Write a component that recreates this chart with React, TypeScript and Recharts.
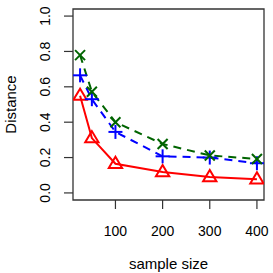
import React from 'react';
import { LineChart, Line, XAxis, YAxis, ReferenceArea } from 'recharts';

const sampleSizes = [25, 50, 100, 200, 300, 400];
const redVals = [0.55, 0.31, 0.165, 0.118, 0.09, 0.077];
const blueVals = [0.665, 0.53, 0.345, 0.207, 0.2, 0.168];
const greenVals = [0.779, 0.572, 0.4, 0.277, 0.212, 0.192];
const xTicks = [100, 200, 300, 400];
const yTicks = [0, 0.2, 0.4, 0.6, 0.8, 1.0];

const data = sampleSizes.map((n, i) => ({
  n,
  red: redVals[i],
  blue: blueVals[i],
  green: greenVals[i],
}));

const FONT = '"Liberation Sans", Arial, sans-serif';

function Triangle(props: any) {
  const { cx, cy } = props;
  const r = 7;
  const pts = `${cx},${cy - r} ${cx - r * 0.95},${cy + r * 0.6} ${cx + r * 0.95},${cy + r * 0.6}`;
  return <polygon points={pts} fill="none" stroke="#ff0000" strokeWidth={2} />;
}

function Plus(props: any) {
  const { cx, cy } = props;
  const r = 7;
  return (
    <g stroke="#0000ff" strokeWidth={2}>
      <line x1={cx - r} y1={cy} x2={cx + r} y2={cy} />
      <line x1={cx} y1={cy - r} x2={cx} y2={cy + r} />
    </g>
  );
}

function Cross(props: any) {
  const { cx, cy } = props;
  const r = 5;
  return (
    <g stroke="#006400" strokeWidth={2}>
      <line x1={cx - r} y1={cy - r} x2={cx + r} y2={cy + r} />
      <line x1={cx - r} y1={cy + r} x2={cx + r} y2={cy - r} />
    </g>
  );
}

function XTick(props: any) {
  const { x, payload } = props;
  // baseline under the tick marks, like R's axis labels
  return (
    <text x={x} y={236} textAnchor="middle" fontSize={14} fill="#000" fontFamily={FONT}>
      {payload.value}
    </text>
  );
}

function YTick(props: any) {
  const { y, payload } = props;
  const cx = 45;
  return (
    <text
      x={cx}
      y={y}
      transform={`rotate(-90, ${cx}, ${y})`}
      textAnchor="middle"
      dominantBaseline="central"
      fontSize={14}
      fill="#000"
      fontFamily={FONT}
    >
      {payload.value.toFixed(1)}
    </text>
  );
}

export default function App() {
  return (
    <div style={{ position: 'absolute', left: 0, top: 0, background: '#fff' }}>
      <LineChart width={273} height={273} data={data} margin={{ top: 9, right: 9, bottom: 0, left: 0 }}>
        <XAxis
          dataKey="n"
          type="number"
          domain={[10, 415]}
          ticks={xTicks}
          allowDataOverflow
          height={73}
          axisLine={false}
          tickSize={9}
          tickLine={{ stroke: '#333', strokeWidth: 1.2 }}
          tick={<XTick />}
          label={{
            content: (p: any) => (
              <text
                x={p.viewBox.x + p.viewBox.width / 2}
                y={269}
                textAnchor="middle"
                fontSize={15}
                fontFamily={FONT}
                fill="#000"
              >
                sample size
              </text>
            ),
          }}
        />
        <YAxis
          type="number"
          domain={[-0.04, 1.04]}
          ticks={yTicks}
          allowDataOverflow
          width={73}
          axisLine={false}
          tickSize={9}
          tickLine={{ stroke: '#333', strokeWidth: 1.2 }}
          tick={<YTick />}
          label={{
            content: (p: any) => {
              const cy = p.viewBox.y + p.viewBox.height / 2;
              return (
                <text
                  x={10}
                  y={cy}
                  transform={`rotate(-90, 10, ${cy})`}
                  textAnchor="middle"
                  dominantBaseline="central"
                  fontSize={15}
                  fontFamily={FONT}
                  fill="#000"
                >
                  Distance
                </text>
              );
            },
          }}
        />
        <ReferenceArea x1={10} x2={415} y1={-0.04} y2={1.04} fill="none" stroke="#333" strokeWidth={1.3} ifOverflow="visible" />
        <Line
          dataKey="red"
          stroke="#ff0000"
          strokeWidth={2}
          isAnimationActive={false}
          dot={(p: any) => <Triangle key={`r${p.index}`} {...p} />}
        />
        <Line
          dataKey="blue"
          stroke="#0000ff"
          strokeWidth={2}
          strokeDasharray="8 6"
          isAnimationActive={false}
          dot={(p: any) => <Plus key={`b${p.index}`} {...p} />}
        />
        <Line
          dataKey="green"
          stroke="#006400"
          strokeWidth={2}
          strokeDasharray="8 6"
          isAnimationActive={false}
          dot={(p: any) => <Cross key={`g${p.index}`} {...p} />}
        />
      </LineChart>
    </div>
  );
}
